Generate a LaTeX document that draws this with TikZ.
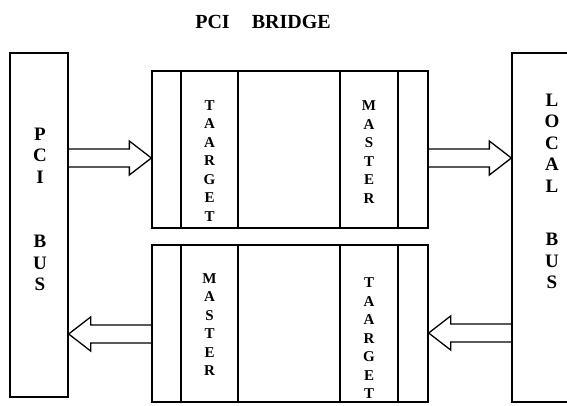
\documentclass[tikz,border=0pt]{standalone}
\usepackage{fontspec}
\setmainfont{Liberation Serif}
\usetikzlibrary{calc}

\begin{document}
\begin{tikzpicture}[x=1pt, y=-1pt,
    box/.style={draw, line width=1.3pt, rectangle, inner sep=0pt},
    lettercol/.style={font=\bfseries\fontsize{15}{18.5}\selectfont, align=center, inner sep=0pt},
    buslabel/.style={font=\bfseries\fontsize{19}{21.5}\selectfont, align=center, inner sep=0pt},
    fatarrow/.style={draw, line width=1.3pt, line join=miter}]
  \useasboundingbox (0,0) rectangle (567,405);

  % title
  \node[font=\bfseries\fontsize{20}{24}\selectfont] (title) at (263,21.5) {PCI\hspace{22pt}BRIDGE};

  % the two buses
  \node[box, minimum width=58pt, minimum height=344pt] (pcibus) at (39,225) {};
  \node[box, minimum width=80pt, minimum height=349pt] (localbus) at (552,227.5) {};
  \node[buslabel] (pcitext) at (40,209.5) {P\\C\\I\\[43pt]B\\U\\S};
  \node[buslabel] (localtext) at (552,191.5) {L\\O\\C\\A\\L\\[32pt]B\\U\\S};

  % bridge blocks
  \node[box, minimum width=276pt, minimum height=157pt] (topbox) at (290,149.5) {};
  \node[box, minimum width=276pt, minimum height=157pt] (botbox) at (290,323.5) {};
  \foreach \xd in {181,238,340,398} {
    \draw[line width=1.3pt] (\xd,0 |- topbox.north) -- (\xd,0 |- topbox.south);
    \draw[line width=1.3pt] (\xd,0 |- botbox.north) -- (\xd,0 |- botbox.south);
  }
  \node[lettercol] (target1) at (209.5,161) {T\\A\\A\\R\\G\\E\\T};
  \node[lettercol] (master1) at (369,152) {M\\A\\S\\T\\E\\R};
  \node[lettercol] (master2) at (209.5,324.5) {M\\A\\S\\T\\E\\R};
  \node[lettercol] (target2) at (369,338.5) {T\\A\\A\\R\\G\\E\\T};

  % hollow arrows
  \draw[fatarrow] ($(pcibus.east |- 0,158)+(0,-9)$) -- ($(topbox.west |- 0,158)+(-22,-9)$)
    -- ++(0,-8) -- (topbox.west |- 0,158) -- ++(-22,17) -- ++(0,-8)
    -- ($(pcibus.east |- 0,158)+(0,9)$);
  \draw[fatarrow] ($(topbox.east |- 0,158)+(0,-9)$) -- ($(localbus.west |- 0,158)+(-22,-9)$)
    -- ++(0,-8) -- (localbus.west |- 0,158) -- ++(-22,17) -- ++(0,-8)
    -- ($(topbox.east |- 0,158)+(0,9)$);
  \draw[fatarrow] ($(botbox.west |- 0,334)+(0,-9)$) -- ($(pcibus.east |- 0,334)+(22,-9)$)
    -- ++(0,-8) -- (pcibus.east |- 0,334) -- ++(22,17) -- ++(0,-8)
    -- ($(botbox.west |- 0,334)+(0,9)$);
  \draw[fatarrow] ($(localbus.west |- 0,333)+(0,-9)$) -- ($(botbox.east |- 0,333)+(22,-9)$)
    -- ++(0,-8) -- (botbox.east |- 0,333) -- ++(22,17) -- ++(0,-8)
    -- ($(localbus.west |- 0,333)+(0,9)$);
\end{tikzpicture}
\end{document}
